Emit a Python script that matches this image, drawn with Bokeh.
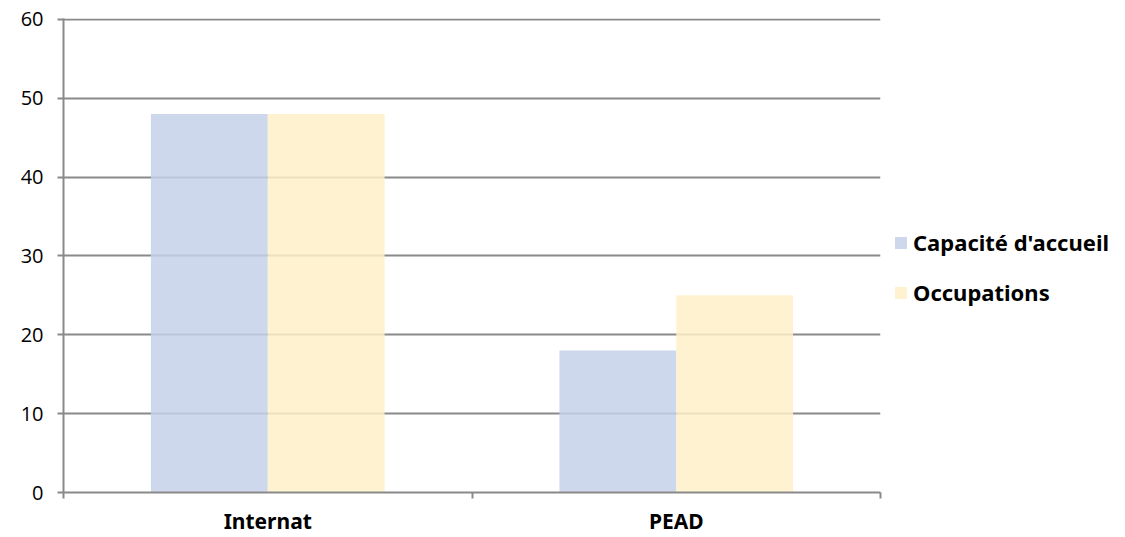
from bokeh.plotting import figure
from bokeh.models import Range1d, FixedTicker, Legend, LegendItem, ColumnDataSource
from bokeh.embed import file_html
from bokeh.resources import INLINE

categories = ["Internat", "PEAD"]
series_names = ["Capacité d'accueil", "Occupations"]
capacite = [48, 18]
occupations = [48, 25]
y_ticks = [0, 10, 20, 30, 40, 50, 60]

colors = ["#C6D1E9", "#FFF0C8"]
grid_col = "#898989"

p = figure(frame_width=817, frame_height=474, output_backend="svg", toolbar_location=None,
           x_range=Range1d(0, len(categories)), y_range=Range1d(0, 60.1),
           min_border_left=63, min_border_top=18, min_border_bottom=45, min_border_right=240)
p.outline_line_color = None
p.background_fill_color = "white"

bar_w = 0.286
centers = [i + 0.5 for i in range(len(categories))]
renderers = []
for k, (vals, col) in enumerate(zip([capacite, occupations], colors)):
    off = (k - 0.5) * bar_w
    src = ColumnDataSource(dict(x=[c + off for c in centers], top=vals))
    r = p.vbar(x="x", top="top", bottom=0, width=bar_w, source=src,
               fill_color=col, fill_alpha=0.85, line_color=None)
    renderers.append(r)

# x axis
p.xaxis.ticker = FixedTicker(ticks=centers, minor_ticks=list(range(len(categories) + 1)))
p.xaxis.major_label_overrides = {c: n for c, n in zip(centers, categories)}
p.xaxis.major_tick_line_color = None
p.xaxis.minor_tick_line_color = grid_col
p.xaxis.minor_tick_line_width = 2
p.xaxis.minor_tick_out = 6
p.xaxis.minor_tick_in = 0
p.xaxis.axis_line_color = grid_col
p.xaxis.axis_line_width = 2
p.xaxis.major_label_text_font = "Noto Sans"
p.xaxis.major_label_text_font_style = "bold"
p.xaxis.major_label_text_font_size = "21px"
p.xaxis.major_label_text_color = "black"
p.xaxis.major_label_standoff = 8

# y axis
p.yaxis.ticker = FixedTicker(ticks=y_ticks)
p.yaxis.minor_tick_line_color = None
p.yaxis.major_tick_line_color = grid_col
p.yaxis.major_tick_line_width = 2
p.yaxis.major_tick_out = 6
p.yaxis.major_tick_in = 0
p.yaxis.axis_line_color = grid_col
p.yaxis.axis_line_width = 2
p.yaxis.major_label_text_font = "Open Sans"
p.yaxis.major_label_text_font_size = "20px"
p.yaxis.major_label_text_color = "black"
p.yaxis.major_label_standoff = 14

p.xgrid.grid_line_color = None
p.ygrid.ticker = FixedTicker(ticks=y_ticks)
p.ygrid.grid_line_color = grid_col
p.ygrid.grid_line_width = 2

legend = Legend(items=[LegendItem(label=n, renderers=[r]) for n, r in zip(series_names, renderers)],
                location=(13, 185), orientation="vertical")
legend.margin = 0
legend.padding = 0
legend.border_line_color = None
legend.background_fill_alpha = 0
legend.glyph_width = 15
legend.glyph_height = 15
legend.label_standoff = 5
legend.label_height = 24
legend.spacing = 20
legend.label_text_font = "Noto Sans"
legend.label_text_font_style = "bold"
legend.label_text_font_size = "22px"
legend.label_text_color = "black"
p.add_layout(legend, "right")

open("out.html", "w").write(file_html(p, INLINE))
